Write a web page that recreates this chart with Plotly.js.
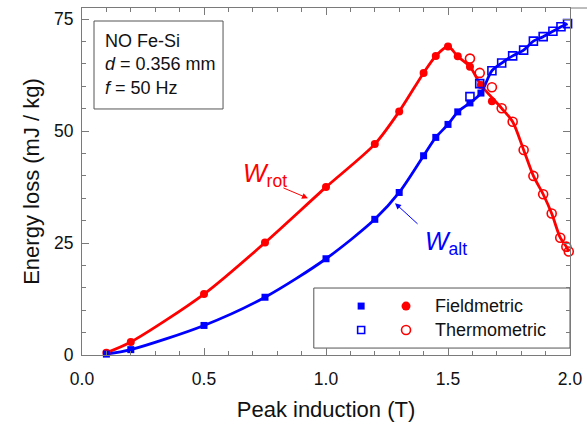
<!DOCTYPE html>
<html>
<head>
<meta charset="utf-8">
<script src="https://cdn.plot.ly/plotly-3.0.1.min.js"></script>
<style>html,body{margin:0;padding:0;background:#fff}#chart{width:587px;height:430px}</style>
</head>
<body>
<div id="chart"></div>
<script>
// Rotational loss, fieldmetric (filled red circles)
const rotFieldB = [0.1, 0.2, 0.5, 0.75, 1.0, 1.2, 1.3, 1.4, 1.45, 1.5, 1.54, 1.59, 1.635, 1.68];
const rotFieldW = [0.5, 2.9, 13.6, 25.1, 37.5, 47.1, 54.4, 63.0, 66.8, 68.9, 66.7, 64.4, 60.3, 56.7];
// Rotational loss, thermometric (open red circles)
const rotThermB = [1.59, 1.63, 1.68, 1.72, 1.765, 1.81, 1.85, 1.89, 1.925, 1.96, 1.985, 1.995];
const rotThermW = [66.2, 63.0, 59.8, 55.1, 52.1, 45.8, 40.0, 35.9, 31.6, 26.2, 24.2, 23.1];
// Alternating loss, fieldmetric (filled blue squares)
const altFieldB = [0.1, 0.2, 0.5, 0.75, 1.0, 1.2, 1.3, 1.4, 1.45, 1.5, 1.54, 1.59, 1.635];
const altFieldW = [0.2, 1.2, 6.6, 12.9, 21.5, 30.3, 36.3, 44.5, 48.6, 51.5, 54.3, 56.3, 58.5];
// Alternating loss, thermometric (open blue squares)
const altThermB = [1.59, 1.63, 1.68, 1.72, 1.765, 1.81, 1.85, 1.89, 1.93, 1.963, 1.99];
const altThermW = [57.7, 60.6, 63.5, 65.2, 66.8, 68.1, 70.1, 71.1, 72.3, 73.3, 74.0];

const xTickVals = [0, 0.5, 1.0, 1.5, 2.0];
const xTickText = ['0.0', '0.5', '1.0', '1.5', '2.0'];
const yTickVals = [0, 25, 50, 75];
const yTickText = ['0', '25', '50', '75'];
const legendLabels = ['Fieldmetric', 'Thermometric'];

// legend key layout (fractions of the plot area)
const keyColSquare = 0.572, keyColCircle = 0.664, keyRowTop = 0.141, keyRowBottom = 0.072;

const RED = '#ff0000', BLUE = '#0000ff';

function joinFit(fb, fw, tb, tw, bMax, bMin) {
  const x = [], y = [];
  fb.forEach((b, i) => { if (b <= bMax) { x.push(b); y.push(fw[i]); } });
  tb.forEach((b, i) => { if (b >= bMin) { x.push(b); y.push(tw[i]); } });
  return {x, y};
}
const rotLine = joinFit(rotFieldB, rotFieldW, rotThermB, rotThermW, 1.64, 1.7);
const altLine = joinFit(altFieldB, altFieldW, altThermB, altThermW, 1.64, 1.67);

const mkRotField = {symbol: 'circle', size: 8, color: RED};
const mkRotTherm = {symbol: 'circle-open', size: 9, color: RED, line: {width: 1.6, color: RED}};
const mkAltField = {symbol: 'square', size: 7, color: BLUE};
const mkAltTherm = {symbol: 'square-open', size: 8, color: BLUE, line: {width: 1.6, color: BLUE}};

const traces = [
  {x: rotLine.x, y: rotLine.y, mode: 'lines', line: {color: RED, width: 2.8, shape: 'spline', smoothing: 0.8}, hoverinfo: 'skip'},
  {x: altLine.x, y: altLine.y, mode: 'lines', line: {color: BLUE, width: 2.8, shape: 'spline', smoothing: 0.8}, hoverinfo: 'skip'},
  {x: rotFieldB, y: rotFieldW, mode: 'markers', cliponaxis: false, marker: mkRotField},
  {x: rotThermB, y: rotThermW, mode: 'markers', cliponaxis: false, marker: mkRotTherm},
  {x: altFieldB, y: altFieldW, mode: 'markers', cliponaxis: false, marker: mkAltField},
  {x: altThermB, y: altThermW, mode: 'markers', cliponaxis: false, marker: mkAltTherm},
  // legend keys drawn on an overlay axis spanning the plot area
  {x: [keyColSquare], y: [keyRowTop], xaxis: 'x2', yaxis: 'y2', mode: 'markers', marker: mkAltField},
  {x: [keyColCircle], y: [keyRowTop], xaxis: 'x2', yaxis: 'y2', mode: 'markers', marker: Object.assign({}, mkRotField, {size: 9})},
  {x: [keyColSquare], y: [keyRowBottom], xaxis: 'x2', yaxis: 'y2', mode: 'markers', marker: Object.assign({}, mkAltTherm, {size: 7})},
  {x: [keyColCircle], y: [keyRowBottom], xaxis: 'x2', yaxis: 'y2', mode: 'markers', marker: mkRotTherm}
];

const FONT = 'Liberation Sans, Arial, sans-serif';
const axisCommon = {
  showline: true, linecolor: '#7a7a7a', linewidth: 1, mirror: 'ticks',
  ticks: 'inside', ticklen: 7, tickcolor: '#7a7a7a', tickwidth: 1,
  showgrid: false, zeroline: false, fixedrange: true,
  tickfont: {family: FONT, size: 17.5, color: '#111'}
};

const layout = {
  width: 587, height: 430,
  margin: {l: 82, r: 17, t: 8, b: 75},
  paper_bgcolor: '#fff', plot_bgcolor: '#fff',
  showlegend: false,
  font: {family: FONT},
  xaxis: Object.assign({}, axisCommon, {
    range: [0, 2.0], tickvals: xTickVals, ticktext: xTickText,
    minor: {ticks: 'inside', dtick: 0.1, ticklen: 4, tickcolor: '#7a7a7a'},
    ticklabelstandoff: 8,
    title: {text: 'Peak induction (T)', font: {family: FONT, size: 22, color: '#111'}, standoff: 13}
  }),
  yaxis: Object.assign({}, axisCommon, {
    range: [0, 77.5], tickvals: yTickVals, ticktext: yTickText,
    minor: {ticks: 'inside', dtick: 5, ticklen: 4, tickcolor: '#7a7a7a'},
    ticklabelstandoff: 4,
    title: {text: 'Energy loss (mJ / kg)', font: {family: FONT, size: 22, color: '#111'}, standoff: 8}
  }),
  xaxis2: {overlaying: 'x', anchor: 'y2', range: [0, 1], visible: false, fixedrange: true},
  yaxis2: {overlaying: 'y', anchor: 'x2', range: [0, 1], visible: false, fixedrange: true},
  shapes: [
    {type: 'line', xref: 'paper', yref: 'paper', x0: 1, x1: 1.035, y0: 1, y1: 1, line: {color: '#7a7a7a', width: 1}},
    {type: 'rect', xref: 'paper', yref: 'paper', x0: 0.0246, x1: 0.289, y0: 0.709, y1: 0.9625, line: {color: '#555', width: 1}, fillcolor: 'rgba(0,0,0,0)'},
    {type: 'rect', layer: 'below', xref: 'paper', yref: 'paper', x0: 0.475, x1: 1.0, y0: 0.020, y1: 0.193, line: {color: '#555', width: 1}, fillcolor: 'rgba(0,0,0,0)'}
  ],
  annotations: [
    {xref: 'paper', yref: 'paper', x: 0.043, y: 0.836, xanchor: 'left', yanchor: 'middle', align: 'left', showarrow: false,
     text: 'NO Fe-Si<br><i>d</i> = 0.356 mm<br><i>f</i> = 50 Hz', font: {family: FONT, size: 18, color: '#111'}},
    // W_rot label and arrow
    {x: 0.926, y: 35.0, ax: -26, ay: -11, axref: 'pixel', ayref: 'pixel', text: '', showarrow: true, arrowhead: 2, arrowsize: 1.2, arrowwidth: 1, arrowcolor: RED, standoff: 0},
    {x: 0.652, y: 40.2, xanchor: 'left', yanchor: 'middle', showarrow: false, text: '<i>W</i><sub>rot</sub>', font: {family: FONT, size: 25, color: RED}},
    // W_alt label and arrow
    {x: 1.283, y: 33.9, ax: 24, ay: 22, axref: 'pixel', ayref: 'pixel', text: '', showarrow: true, arrowhead: 2, arrowsize: 1.2, arrowwidth: 1, arrowcolor: BLUE, standoff: 0},
    {x: 1.398, y: 25.0, xanchor: 'left', yanchor: 'middle', showarrow: false, text: '<i>W</i><sub>alt</sub>', font: {family: FONT, size: 25, color: BLUE}},
    // legend labels
    {xref: 'paper', yref: 'paper', x: 0.719, y: keyRowTop, xanchor: 'left', yanchor: 'middle', showarrow: false, text: legendLabels[0], font: {family: FONT, size: 18, color: '#111'}},
    {xref: 'paper', yref: 'paper', x: 0.719, y: keyRowBottom, xanchor: 'left', yanchor: 'middle', showarrow: false, text: legendLabels[1], font: {family: FONT, size: 18, color: '#111'}}
  ]
};

Plotly.newPlot('chart', traces, layout, {displayModeBar: false, staticPlot: true});
</script>
</body>
</html>
